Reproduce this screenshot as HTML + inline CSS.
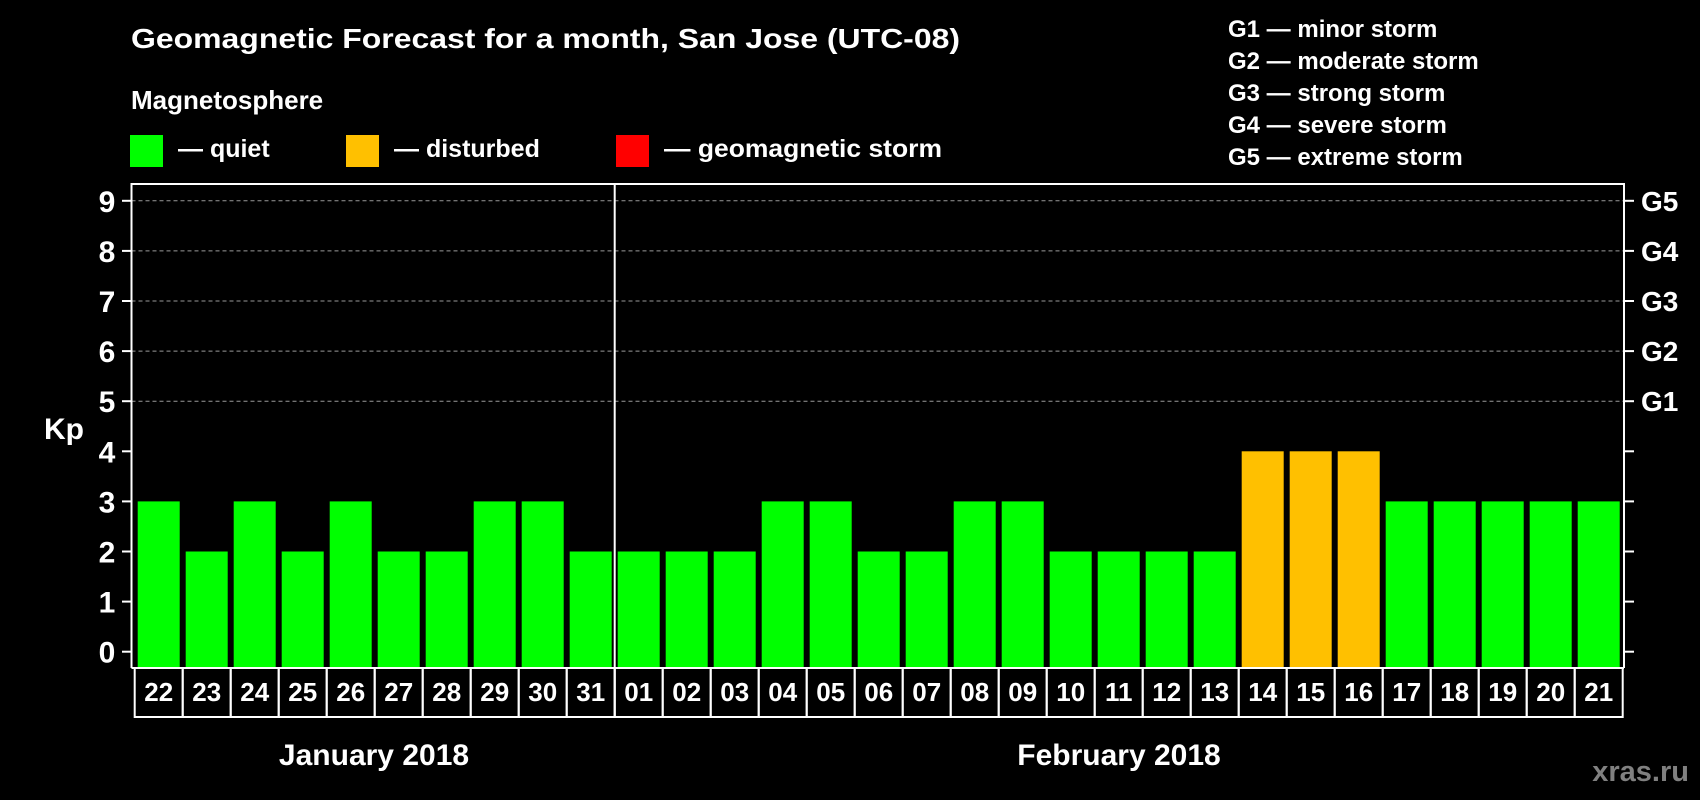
<!DOCTYPE html>
<html><head><meta charset="utf-8"><style>
html,body{margin:0;padding:0;background:#000;}
svg{display:block;font-family:"Liberation Sans",Arial,sans-serif;font-weight:bold;}
</style></head><body>
<svg id="chart" width="1700" height="800" viewBox="0 0 1700 800" xmlns="http://www.w3.org/2000/svg">
<rect x="0" y="0" width="1700" height="800" fill="#000"/>
<text x="131" y="48" font-size="28" fill="#fff" textLength="829" lengthAdjust="spacingAndGlyphs">Geomagnetic Forecast for a month, San Jose (UTC-08)</text>
<text x="131" y="109" font-size="26" fill="#fff">Magnetosphere</text>
<g>
<rect x="130" y="135" width="33" height="32" fill="#00ff00"/>
<text x="178" y="157" font-size="25" fill="#fff">— quiet</text></g>
<g>
<rect x="346" y="135" width="33" height="32" fill="#ffc000"/>
<text x="394" y="157" font-size="25" fill="#fff">— disturbed</text></g>
<g>
<rect x="616" y="135" width="33" height="32" fill="#ff0000"/>
<text x="664" y="157" font-size="25" fill="#fff" textLength="278" lengthAdjust="spacingAndGlyphs">— geomagnetic storm</text></g>
<g font-size="24" fill="#fff">
<text x="1228" y="37">G1 — minor storm</text>
<text x="1228" y="69">G2 — moderate storm</text>
<text x="1228" y="101">G3 — strong storm</text>
<text x="1228" y="133">G4 — severe storm</text>
<text x="1228" y="165">G5 — extreme storm</text>
</g>
<text x="64" y="439" font-size="30" fill="#fff" text-anchor="middle">Kp</text>
<g id="grid"></g>
<g id="bars"></g>
<g id="axes"></g>
<text x="374" y="765" font-size="30" fill="#fff" text-anchor="middle">January 2018</text>
<text x="1119" y="765" font-size="30" fill="#fff" text-anchor="middle">February 2018</text>
<text x="1689" y="781" font-size="29" fill="#808080" text-anchor="end">xras.ru</text>
</svg>
<script>
const days = ["22","23","24","25","26","27","28","29","30","31","01","02","03","04","05","06","07","08","09","10","11","12","13","14","15","16","17","18","19","20","21"];
const kpValues = [3,2,3,2,3,2,2,3,3,2,2,2,2,3,3,2,2,3,3,2,2,2,2,4,4,4,3,3,3,3,3];
const yTicks = [0,1,2,3,4,5,6,7,8,9];
const gLabels = ["G1","G2","G3","G4","G5"];
const gLevels = [5,6,7,8,9];
const monthStartIndex = 10;

const NS = "http://www.w3.org/2000/svg";
const plotL = 131.5, plotR = 1624, plotT = 184, plotB = 668;
const cellL = 134.7, cellW = 48, labT = 668, labB = 717;
function yScale(v){ return 651.7 - v * 50.1; }
function xCell(i){ return cellL + i * cellW; }
function colorFor(v){ return v >= 5 ? "#ff0000" : (v >= 4 ? "#ffc000" : "#00ff00"); }
function mk(tag, attrs, parent){
  const el = document.createElementNS(NS, tag);
  for (const k in attrs) el.setAttribute(k, attrs[k]);
  parent.appendChild(el);
  return el;
}
const grid = document.getElementById("grid");
const bars = document.getElementById("bars");
const axes = document.getElementById("axes");

gLevels.forEach((lv, i) => {
  const y = yScale(lv);
  const ln = mk("line", {x1: plotL, x2: plotR, y1: y, y2: y, stroke: "#999", "stroke-width": 1, "stroke-dasharray": "4,3"}, grid);
  
  
  const t = mk("text", {x: 1641, y: y + 10, "font-size": 28, fill: "#fff"}, axes);
  t.textContent = gLabels[i];
  
  
});

kpValues.forEach((v, i) => {
  const y = yScale(v);
  const r = mk("rect", {x: xCell(i) + 3, y: y, width: 42, height: plotB - y, fill: colorFor(v)}, bars);
  
  
});

yTicks.forEach(v => {
  const y = yScale(v);
  const tl = mk("line", {x1: 122, x2: plotL, y1: y, y2: y, stroke: "#fff", "stroke-width": 2}, axes);
  
  
  const tr = mk("line", {x1: plotR, x2: 1634, y1: y, y2: y, stroke: "#fff", "stroke-width": 2}, axes);
  
  
  const t = mk("text", {x: 107, y: y + 11, "font-size": 30, fill: "#fff", "text-anchor": "middle"}, axes);
  t.textContent = String(v);
  
  
});

const frame = mk("polyline", {points: `${plotL},${plotB} ${plotL},${plotT} ${plotR},${plotT} ${plotR},${plotB}`, fill: "none", stroke: "#fff", "stroke-width": 2}, axes);


const base = mk("line", {x1: plotL, x2: plotR, y1: plotB, y2: plotB, stroke: "#fff", "stroke-width": 2}, axes);



days.forEach((d, i) => {
  const c = mk("rect", {x: xCell(i), y: labT, width: cellW, height: labB - labT, fill: "none", stroke: "#fff", "stroke-width": 2}, axes);
  
  
  const t = mk("text", {x: xCell(i) + cellW / 2, y: 701, "font-size": 26, fill: "#fff", "text-anchor": "middle"}, axes);
  t.textContent = d;
  
  
});

const sx = xCell(monthStartIndex);
const sep = mk("line", {x1: sx, x2: sx, y1: plotT, y2: labB, stroke: "#fff", "stroke-width": 2}, axes);


</script>
</body></html>
